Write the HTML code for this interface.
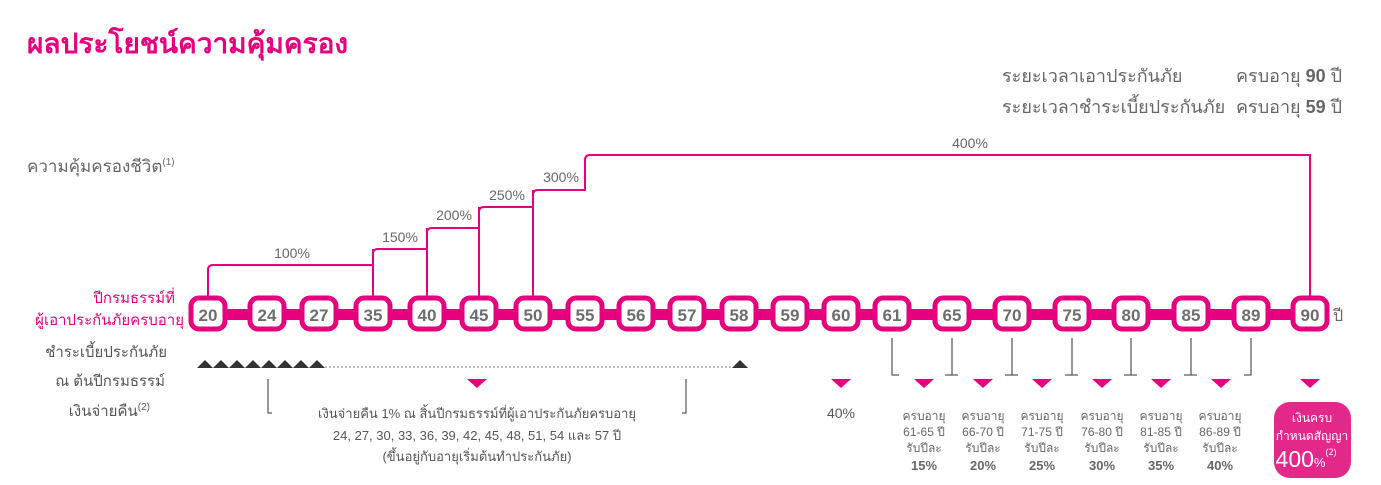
<!DOCTYPE html>
<html><head><meta charset="utf-8"><style>
body{margin:0;width:1381px;height:480px;background:#fff;overflow:hidden}
svg text{font-family:"Liberation Sans","Noto Sans CJK SC",sans-serif}
</style></head><body>
<svg width="1381" height="480" viewBox="0 0 1381 480" xmlns="http://www.w3.org/2000/svg">
<text x="27" y="53" font-size="28" fill="#e6007e" font-weight="bold">ผลประโยชน์ความคุ้มครอง</text>
<g font-size="18" fill="#666">
<text x="1002" y="82">ระยะเวลาเอาประกันภัย</text>
<text x="1236" y="82">ครบอายุ <tspan font-weight="bold">90</tspan> ปี</text>
<text x="1002" y="113">ระยะเวลาชำระเบี้ยประกันภัย</text>
<text x="1236" y="113">ครบอายุ <tspan font-weight="bold">59</tspan> ปี</text>
<text x="27" y="172" font-size="17">ความคุ้มครองชีวิต<tspan font-size="10" dy="-7">(1)</tspan></text>
</g>
<g fill="none" stroke="#e6007e" stroke-width="2">
<path d="M208 298V270q0-5 5-5H373V254q0-5 5-5h49V233q0-5 5-5h47V212q0-5 5-5h49V195q0-5 5-5h47V160q0-5 5-5H1310V298"/>
<path d="M373 249V298M427 228V298M479 207V298M533 190V298"/>
</g>
<g font-size="14" fill="#666" text-anchor="middle">
<text x="292" y="258">100%</text><text x="400" y="242">150%</text><text x="454" y="220">200%</text>
<text x="507" y="200">250%</text><text x="561" y="182">300%</text><text x="970" y="148">400%</text>
</g>
<text x="175" y="303" font-size="15" fill="#e6007e" text-anchor="end">ปีกรมธรรม์ที่</text>
<text x="184" y="325" font-size="15" fill="#e6007e" text-anchor="end">ผู้เอาประกันภัยครบอายุ</text>
<rect x="208" y="309" width="1102" height="11" fill="#e6007e"/>
<g font-size="17" font-weight="bold" fill="#6d6d6d" text-anchor="middle">
<g stroke="#e6007e" stroke-width="5" fill="#fff">
<rect x="191" y="298" width="34" height="31" rx="8"/><rect x="250" y="298" width="34" height="31" rx="8"/><rect x="302" y="298" width="34" height="31" rx="8"/><rect x="356" y="298" width="34" height="31" rx="8"/><rect x="410" y="298" width="34" height="31" rx="8"/><rect x="462" y="298" width="34" height="31" rx="8"/><rect x="516" y="298" width="34" height="31" rx="8"/><rect x="568" y="298" width="34" height="31" rx="8"/><rect x="619" y="298" width="34" height="31" rx="8"/><rect x="670" y="298" width="34" height="31" rx="8"/><rect x="722" y="298" width="34" height="31" rx="8"/><rect x="773" y="298" width="34" height="31" rx="8"/><rect x="824" y="298" width="34" height="31" rx="8"/><rect x="875" y="298" width="34" height="31" rx="8"/><rect x="935" y="298" width="34" height="31" rx="8"/><rect x="995" y="298" width="34" height="31" rx="8"/><rect x="1055" y="298" width="34" height="31" rx="8"/><rect x="1114" y="298" width="34" height="31" rx="8"/><rect x="1174" y="298" width="34" height="31" rx="8"/><rect x="1234" y="298" width="34" height="31" rx="8"/><rect x="1293" y="298" width="34" height="31" rx="8"/>
</g>
<text x="208" y="321">20</text><text x="267" y="321">24</text><text x="319" y="321">27</text><text x="373" y="321">35</text><text x="427" y="321">40</text><text x="479" y="321">45</text><text x="533" y="321">50</text><text x="585" y="321">55</text><text x="636" y="321">56</text><text x="687" y="321">57</text><text x="739" y="321">58</text><text x="790" y="321">59</text><text x="841" y="321">60</text><text x="892" y="321">61</text><text x="952" y="321">65</text><text x="1012" y="321">70</text><text x="1072" y="321">75</text><text x="1131" y="321">80</text><text x="1191" y="321">85</text><text x="1251" y="321">89</text><text x="1310" y="321">90</text>
</g>
<text x="1333" y="321" font-size="16" fill="#666">ปี</text>
<g font-size="15" fill="#555" text-anchor="end">
<text x="167" y="357">ชำระเบี้ยประกันภัย</text>
<text x="165" y="386">ณ ต้นปีกรมธรรม์</text>
<text x="150" y="416">เงินจ่ายคืน<tspan font-size="10" dy="-6">(2)</tspan></text>
</g>
<g fill="#333">
<path d="M197 368l8-8 8 8zM213 368l8-8 8 8zM229 368l8-8 8 8zM245 368l8-8 8 8zM261 368l8-8 8 8zM277 368l8-8 8 8zM293 368l8-8 8 8zM309 368l8-8 8 8zM732 368l8-8 8 8z"/>
</g>
<line x1="325" y1="367" x2="732" y2="367" stroke="#777" stroke-dasharray="2,2"/>
<path d="M268 379V413h4M686 379V413h-4" stroke="#333" fill="none"/>
<g fill="#e6007e">
<path d="M467 379h20l-10 9zM831 379h20l-10 9zM914 379h20l-10 9zM973 379h20l-10 9zM1032 379h20l-10 9zM1092 379h20l-10 9zM1151 379h20l-10 9zM1211 379h20l-10 9zM1300 379h20l-10 9z"/>
</g>
<g stroke="#333" fill="none">
<path d="M892 338V375h7M952 338V375h-7M952 375h6M1012 338V375h-7M1012 375h6M1072 338V375h-7M1072 375h6M1131 338V375h-7M1131 375h6M1191 338V375h-7M1191 375h6M1251 338V375h-7"/>
</g>
<g font-size="13" fill="#555" text-anchor="middle">
<text x="477" y="418">เงินจ่ายคืน 1% ณ สิ้นปีกรมธรรม์ที่ผู้เอาประกันภัยครบอายุ</text>
<text x="477" y="440">24, 27, 30, 33, 36, 39, 42, 45, 48, 51, 54 และ 57 ปี</text>
<text x="477" y="461">(ขึ้นอยู่กับอายุเริ่มต้นทำประกันภัย)</text>
<text x="841" y="418" font-size="14">40%</text>
</g>
<g font-size="12" fill="#666" text-anchor="middle">
<g transform="translate(924,0)"><text y="420">ครบอายุ</text><text y="436">61-65 ปี</text><text y="452">รับปีละ</text><text y="470" font-weight="bold" font-size="13">15%</text></g>
<g transform="translate(983,0)"><text y="420">ครบอายุ</text><text y="436">66-70 ปี</text><text y="452">รับปีละ</text><text y="470" font-weight="bold" font-size="13">20%</text></g>
<g transform="translate(1042,0)"><text y="420">ครบอายุ</text><text y="436">71-75 ปี</text><text y="452">รับปีละ</text><text y="470" font-weight="bold" font-size="13">25%</text></g>
<g transform="translate(1102,0)"><text y="420">ครบอายุ</text><text y="436">76-80 ปี</text><text y="452">รับปีละ</text><text y="470" font-weight="bold" font-size="13">30%</text></g>
<g transform="translate(1161,0)"><text y="420">ครบอายุ</text><text y="436">81-85 ปี</text><text y="452">รับปีละ</text><text y="470" font-weight="bold" font-size="13">35%</text></g>
<g transform="translate(1220,0)"><text y="420">ครบอายุ</text><text y="436">86-89 ปี</text><text y="452">รับปีละ</text><text y="470" font-weight="bold" font-size="13">40%</text></g>
</g>
<rect x="1274" y="402" width="77" height="76" rx="16" fill="#e4288a"/>
<g fill="#fff" text-anchor="middle">
<text x="1312" y="422" font-size="12">เงินครบ</text>
<text x="1312" y="440" font-size="12">กำหนดสัญญา</text>
<text x="1306" y="467" font-size="23">400<tspan font-size="13">%</tspan><tspan font-size="9" dy="-12">(2)</tspan></text>
</g>
</svg>
</body></html>
